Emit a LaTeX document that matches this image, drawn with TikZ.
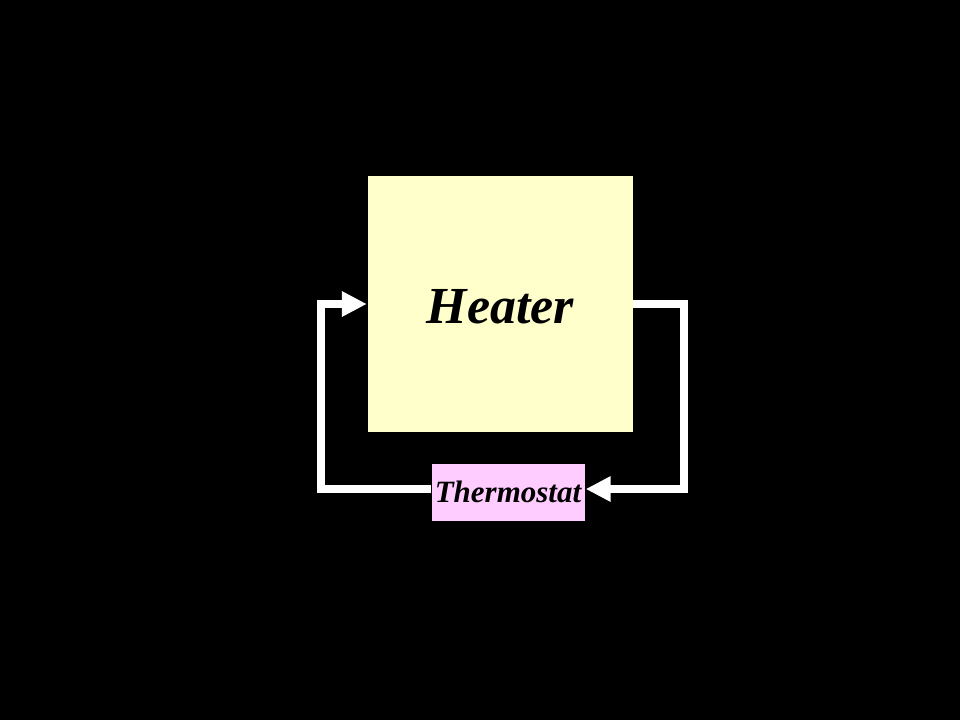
\documentclass[tikz,border=0pt]{standalone}
\usepackage{fontspec}
\setmainfont{Liberation Serif}
\usetikzlibrary{arrows.meta}

\begin{document}
\begin{tikzpicture}[x=1pt,y=-1pt,>={Triangle[length=25pt,width=24pt]},shorten >=1pt,
        box/.style={draw=none,inner sep=0pt,font=\bfseries\itshape},
        wire/.style={->,draw=white,line width=8pt}]
        \fill[black] (0,0) rectangle (960,720);
        \node[box,fill={rgb,255:red,255;green,255;blue,204},minimum width=265pt,minimum height=256pt,
              text height=38pt,text depth=0pt,
              font=\fontsize{52}{58}\selectfont\bfseries\itshape]  (h) at (500.5,304) {Heater};
        \node[box,fill={rgb,255:red,255;green,204;blue,255},minimum width=153pt,minimum height=57pt,
              font=\fontsize{31}{36}\selectfont\bfseries\itshape]  (t) at (508,492) {Thermostat};
        \coordinate (r1) at (684,304);
        \coordinate (r2) at (684,489);
        \coordinate (l1) at (321,489);
        \coordinate (l2) at (321,304);
        \draw[wire] (h.east) -- (r1) -- (r2) -- (t.east |- r2);
        \draw[wire] (t.west |- l1) -- (l1) -- (l2) -- (h.west);
      \end{tikzpicture}
\end{document}
